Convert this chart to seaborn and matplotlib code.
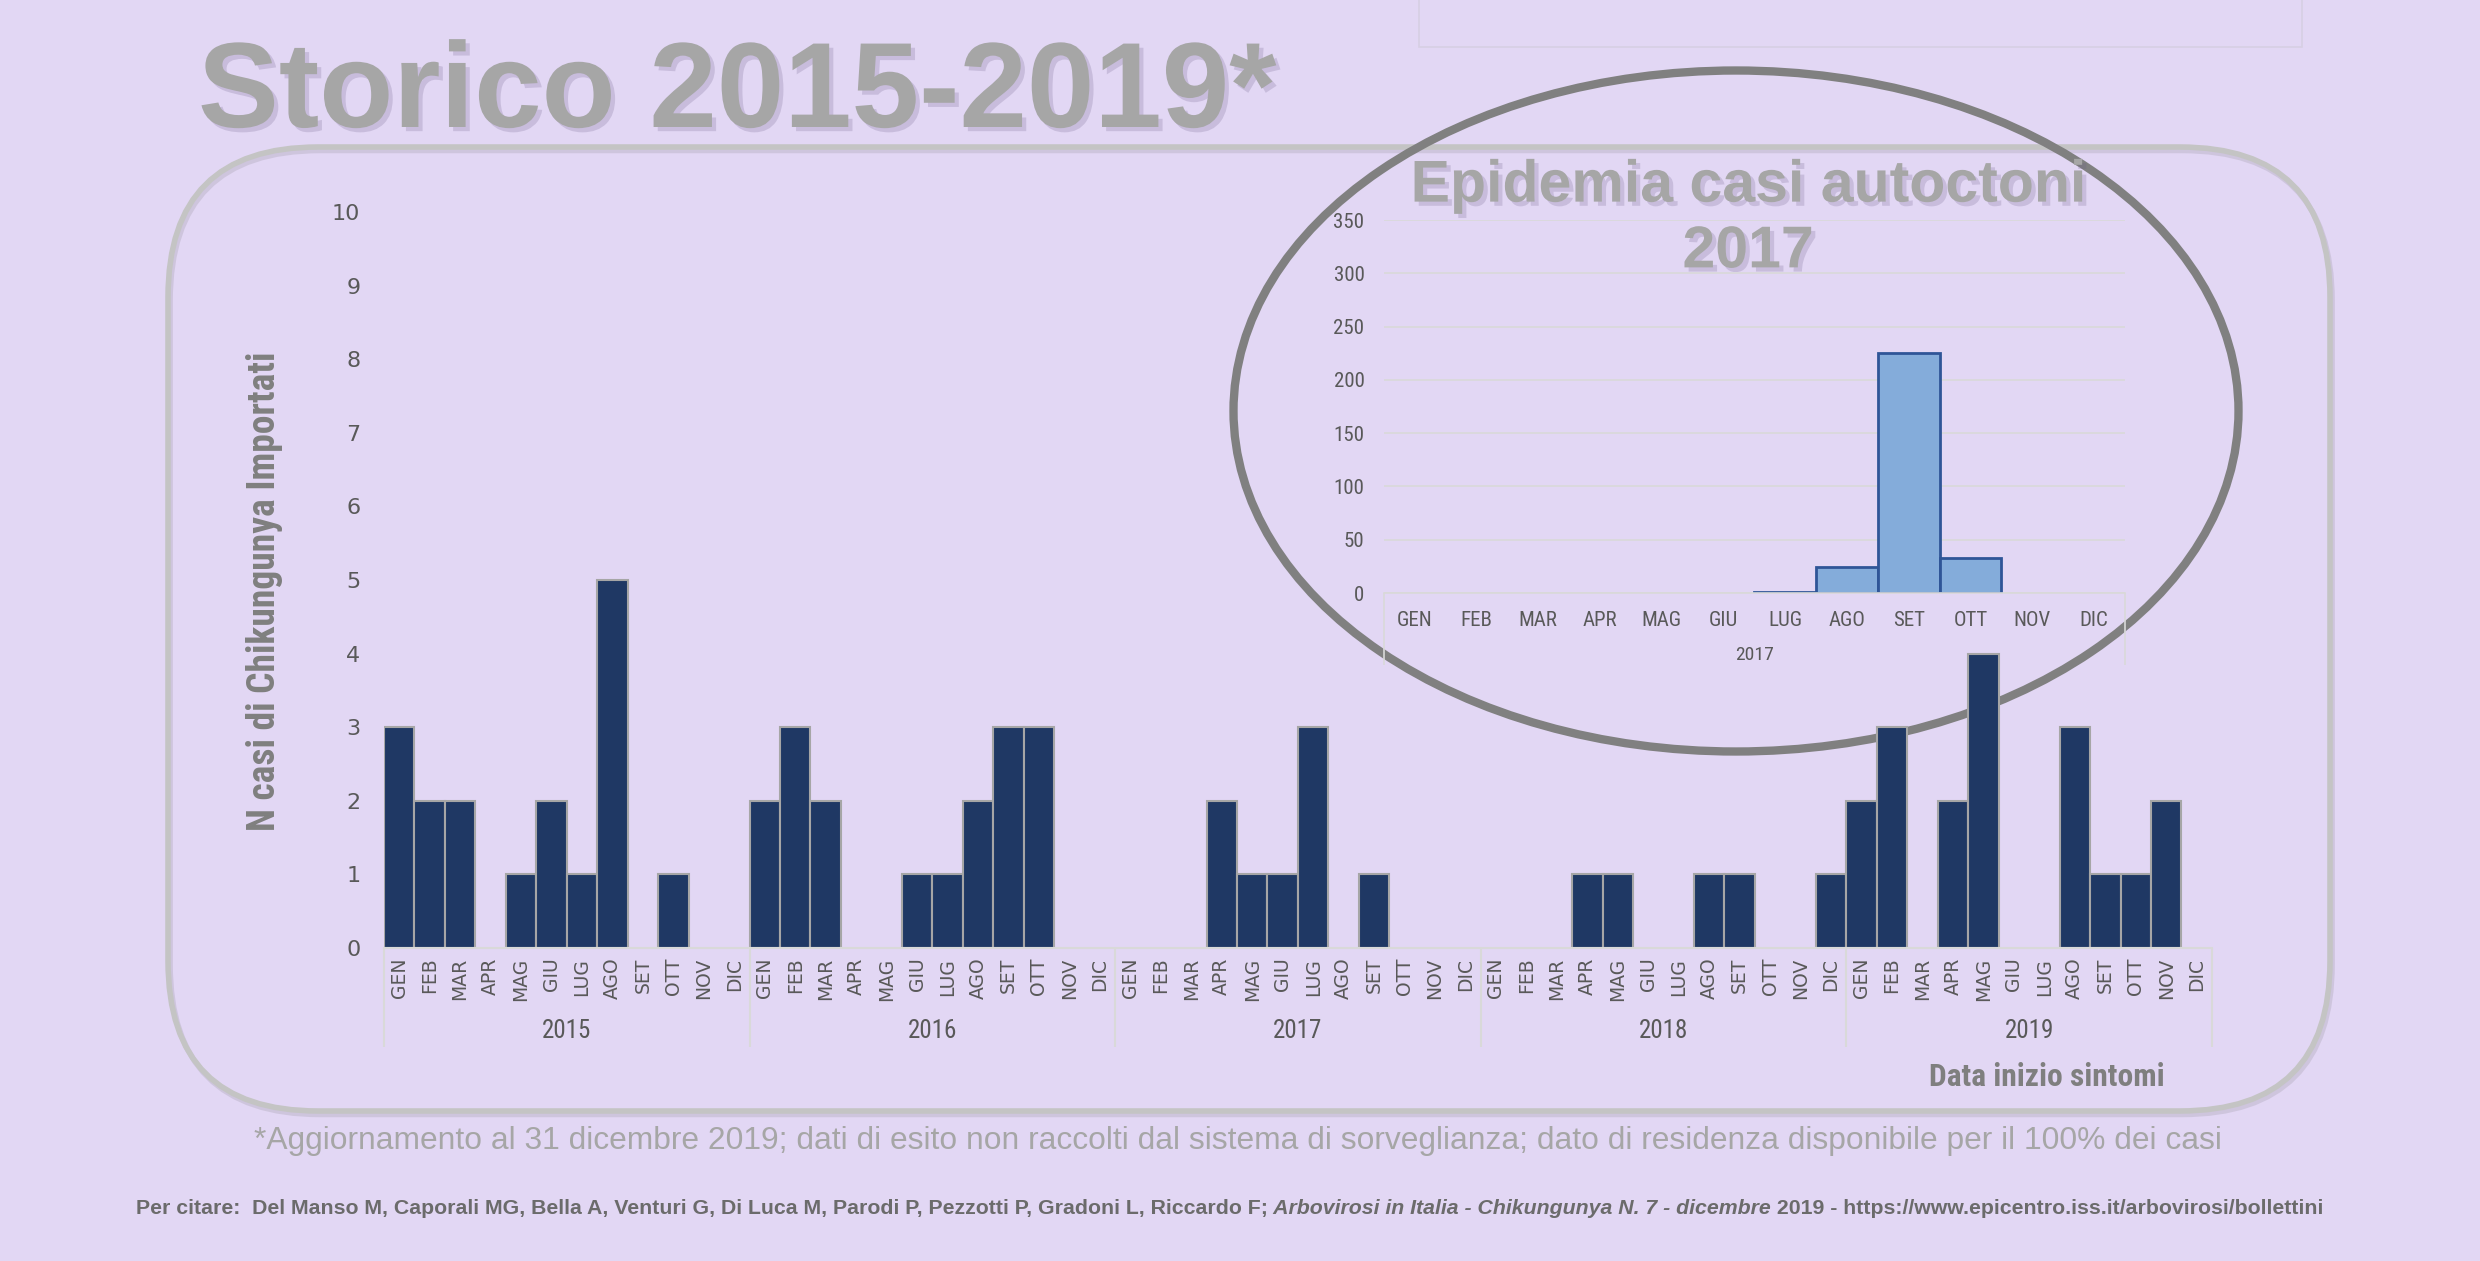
import os
import matplotlib
matplotlib.use("Agg")
import numpy as np
import pandas as pd
import matplotlib.pyplot as plt
import matplotlib.patheffects as pe
from matplotlib import font_manager
from matplotlib.font_manager import FontProperties
from matplotlib.patches import FancyBboxPatch, Ellipse, Rectangle
import seaborn as sns

# monthly imported cases (Chikungunya), 2015-2019
MONTHS = ["GEN", "FEB", "MAR", "APR", "MAG", "GIU", "LUG", "AGO", "SET", "OTT", "NOV", "DIC"]
YEARS = ["2015", "2016", "2017", "2018", "2019"]
cases_2015 = [3, 2, 2, 0, 1, 2, 1, 5, 0, 1, 0, 0]
cases_2016 = [2, 3, 2, 0, 0, 1, 1, 2, 3, 3, 0, 0]
cases_2017 = [0, 0, 0, 2, 1, 1, 3, 0, 1, 0, 0, 0]
cases_2018 = [0, 0, 0, 1, 1, 0, 0, 1, 1, 0, 0, 1]
cases_2019 = [2, 3, 0, 2, 4, 0, 0, 3, 1, 1, 2, 0]

# autochthonous outbreak 2017 (inset)
autoctoni_2017 = [0, 0, 0, 0, 0, 0, 1, 24, 225, 33, 0, 0]

BG = "#e2d7f4"
NAVY = "#1f3864"
GREY_TXT = "#595959"

ARIAL = "Liberation Sans"


def find_font(patterns):
    """Returns the file of the first installed font whose file name matches."""
    files = [f.fname for f in font_manager.fontManager.ttflist]
    for p in patterns:
        for fn in files:
            if p in os.path.basename(fn):
                return fn
    return None


# narrow font for the Excel-like labels (Calibri look)
narrow_reg = find_font(["LiberationSansNarrow-Regular", "RobotoCondensed-Regular", "DejaVuSansCondensed.ttf"])
narrow_bold = find_font(["LiberationSansNarrow-Bold.", "RobotoCondensed-Bold.", "DejaVuSansCondensed-Bold.ttf"])
scale = 1.0 if narrow_reg else 0.85


def narrow(size, bold=False):
    fn = narrow_bold if bold else narrow_reg
    if fn:
        return FontProperties(fname=fn, size=size)
    return FontProperties(family="DejaVu Sans", weight="bold" if bold else "normal", size=size * scale)


sns.set_theme(style="white")
plt.rcParams["font.family"] = ["DejaVu Sans"]

all_cases = cases_2015 + cases_2016 + cases_2017 + cases_2018 + cases_2019
df = pd.DataFrame({
    "key": [f"{y}-{m}" for y in YEARS for m in MONTHS],
    "month": MONTHS * len(YEARS),
    "cases": all_cases,
})
# empty months are not drawn at all
df["plot_cases"] = df["cases"].replace(0, np.nan)

df_in = pd.DataFrame({"month": MONTHS, "cases": autoctoni_2017})
df_in["plot_cases"] = df_in["cases"].replace(0, np.nan)

fig = plt.figure(figsize=(24.8, 12.61), dpi=100, facecolor=BG)

# background layer in pixel coordinates
bg = fig.add_axes([0, 0, 1, 1], zorder=0)
bg.set_xlim(0, 2480)
bg.set_ylim(1261, 0)
bg.axis("off")

bg.add_patch(Rectangle((1419, -5), 883, 52, fill=False, ec="#d7cfe4", lw=1.2))
frame = FancyBboxPatch((168, 147), 2162, 964, boxstyle="round,pad=0,rounding_size=150",
                       fill=False, ec="#c4c4c4", lw=4,
                       path_effects=[pe.SimpleLineShadow(offset=(1.5, -2.5), shadow_color="#aaa4b4", alpha=0.35),
                                     pe.Normal()])
bg.add_patch(frame)
bg.add_patch(Ellipse((1736, 411), 1005, 681, fill=False, ec="#808080", lw=6))

shadow = [pe.SimplePatchShadow(offset=(3, -3), shadow_rgbFace="#6c5f88", alpha=0.22), pe.Normal()]
bg.text(198, 127, "Storico 2015-2019*", family=ARIAL, fontweight="bold", fontsize=87.3,
        color="#a6a6a6", ha="left", va="baseline", path_effects=shadow)
bg.text(1748, 219, "Epidemia casi autoctoni\n2017", family=ARIAL, fontweight="bold", fontsize=42.5,
        color="#a6a6a6", ha="center", va="center", linespacing=1.25, multialignment="center",
        path_effects=shadow)

bg.text(2047, 1077, "Data inizio sintomi", fontproperties=narrow(22.7, bold=True),
        color="#7f7f7f", ha="center", va="center")
bg.text(1238, 1141, "*Aggiornamento al 31 dicembre 2019; dati di esito non raccolti dal sistema di "
        "sorveglianza; dato di residenza disponibile per il 100% dei casi",
        family=ARIAL, fontsize=22.9, color="#a6a6a6", ha="center", va="center")

cite_kw = dict(family=ARIAL, fontweight="bold", fontsize=15.35, color="#6b6b6b")
t1 = bg.text(136, 1209, "Per citare:  Del Manso M, Caporali MG, Bella A, Venturi G, Di Luca M, Parodi P, "
             "Pezzotti P, Gradoni L, Riccardo F;", ha="left", va="center", **cite_kw)
t2 = bg.annotate(" Arbovirosi in Italia - Chikungunya N. 7 - dicembre", xy=(1, 0), xycoords=t1,
                 ha="left", va="bottom", style="italic", **cite_kw)
bg.annotate(" 2019 - https://www.epicentro.iss.it/arbovirosi/bollettini", xy=(1, 0), xycoords=t2,
            ha="left", va="bottom", **cite_kw)

# main chart
ax = fig.add_axes([0.1548, 0.2482, 0.7371, 0.5837], zorder=1)
ax.patch.set_alpha(0)
sns.barplot(data=df, x="key", y="plot_cases", order=list(df["key"]), color=NAVY, saturation=1,
            width=1.0, edgecolor="#a6a6a6", linewidth=1.5, errorbar=None, ax=ax)
ax.set_xlim(-0.5, len(df) - 0.5)
ax.set_ylim(0, 10)
ax.set_yticks(range(0, 11))
ax.set_xticks(range(len(df)))
ax.set_xticklabels(df["month"], rotation=90, fontsize=13.5, color=GREY_TXT)
ax.tick_params(axis="both", length=0)
ax.tick_params(axis="x", pad=7)
ax.tick_params(axis="y", pad=17, labelsize=16, labelcolor=GREY_TXT)
ax.set_xlabel("")
ax.set_ylabel("N casi di Chikungunya Importati", fontproperties=narrow(27, bold=True), color="#7f7f7f")
ax.yaxis.set_label_coords(-0.055, 0.485)
for side in ["left", "top", "right"]:
    ax.spines[side].set_visible(False)
ax.spines["bottom"].set_color("#d9d9d9")
ax.spines["bottom"].set_linewidth(1.5)

xt = ax.get_xaxis_transform()
ax.vlines([i * 12 - 0.5 for i in range(len(YEARS) + 1)], -0.135, 0, transform=xt,
          colors="#d9d9d9", lw=1.5, clip_on=False)
for i, y in enumerate(YEARS):
    ax.text(i * 12 + 5.5, -0.113, y, transform=xt, ha="center", va="center",
            fontproperties=narrow(18), color=GREY_TXT)

# inset: outbreak 2017
ax2 = fig.add_axes([0.558, 0.5297, 0.2988, 0.2958], zorder=2)
ax2.patch.set_alpha(0)
sns.barplot(data=df_in, x="month", y="plot_cases", order=MONTHS, color="#84acda", saturation=1,
            width=1.0, edgecolor="#2f5597", linewidth=2, errorbar=None, ax=ax2)
ax2.set_xlim(-0.5, 11.5)
ax2.set_ylim(0, 350)
ax2.set_yticks(range(0, 351, 50))
ax2.yaxis.grid(True, color="#d9d9d9", lw=1.2)
ax2.set_axisbelow(True)
ax2.tick_params(axis="both", length=0)
ax2.tick_params(axis="x", pad=13, labelcolor=GREY_TXT)
ax2.tick_params(axis="y", pad=14, labelcolor=GREY_TXT)
for lab in ax2.get_xticklabels() + ax2.get_yticklabels():
    lab.set_fontproperties(narrow(15))
ax2.set_xlabel("")
ax2.set_ylabel("")
for side in ["left", "top", "right"]:
    ax2.spines[side].set_visible(False)
ax2.spines["bottom"].set_color("#d9d9d9")
ax2.spines["bottom"].set_linewidth(1.2)
xt2 = ax2.get_xaxis_transform()
ax2.vlines([-0.5, 11.5], -0.193, 0, transform=xt2, colors="#d9d9d9", lw=1.2, clip_on=False)
ax2.text(5.5, -0.166, "2017", transform=xt2, ha="center", va="center",
         fontproperties=narrow(14), color=GREY_TXT)

fig.savefig("out.png", dpi=100, facecolor=BG)
